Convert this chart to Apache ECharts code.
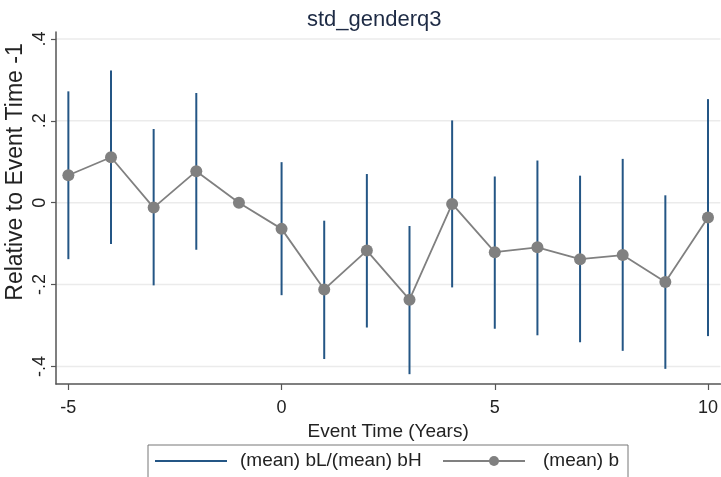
<!DOCTYPE html>
<html>
<head>
<meta charset="utf-8">
<script src="https://cdn.jsdelivr.net/npm/echarts@6/dist/echarts.min.js"></script>
<style>html,body{margin:0;padding:0;background:#fff}#c{width:721px;height:477px}</style>
</head>
<body>
<div id="c"></div>
<script>
const years = [-5,-4,-3,-2,-1,0,1,2,3,4,5,6,7,8,9,10];
const b  = [0.067,0.111,-0.012,0.077,0,-0.064,-0.212,-0.117,-0.237,-0.003,-0.121,-0.109,-0.138,-0.128,-0.194,-0.036];
const bL = [-0.138,-0.101,-0.202,-0.115,0,-0.226,-0.382,-0.305,-0.419,-0.207,-0.308,-0.324,-0.341,-0.362,-0.406,-0.326];
const bH = [0.272,0.323,0.180,0.268,0,0.099,-0.044,0.070,-0.057,0.201,0.064,0.103,0.066,0.107,0.018,0.253];
const xTicks = [-5,0,5,10];
const yTicks = [-0.4,-0.2,0,0.2,0.4];
const yTickLabels = ['-.4','-.2','0','.2','.4'];
const titleText = 'std_genderq3';
const xTitle = 'Event Time (Years)';
const yTitle = 'Relative to Event Time -1';
const ciName = '(mean) bL/(mean) bH';
const bName = '(mean) b';

const FONT = '"Liberation Sans", Arial, sans-serif';
const ciColor = '#245685';
const bColor = '#808080';
const axisColor = '#555555';
const gridColor = '#ebebeb';
const X_MIN = -5.29, X_MAX = 10.29, Y_MIN = -0.443, Y_MAX = 0.417;

const chart = echarts.init(document.getElementById('c'), null, {renderer: 'canvas'});
const ciData = years.map((x, i) => [x, bL[i], bH[i]]);
const lineData = years.map((x, i) => [x, b[i]]);

const option = {
  animation: false,
  backgroundColor: '#ffffff',
  title: {
    text: titleText, left: 302, top: 4,
    textStyle: {fontFamily: FONT, fontSize: 22, fontWeight: 'normal', color: '#1e2b45'}
  },
  grid: {left: 56, top: 32, right: 0, bottom: 93, containLabel: false},
  xAxis: {
    type: 'value', min: X_MIN, max: X_MAX,
    name: xTitle, nameLocation: 'middle', nameGap: 31,
    nameTextStyle: {fontFamily: FONT, fontSize: 19, color: '#222'},
    axisLine: {show: true, onZero: false, lineStyle: {color: axisColor, width: 1.5}},
    axisTick: {show: true, length: 6, customValues: xTicks, lineStyle: {color: axisColor, width: 1.2}},
    axisLabel: {customValues: xTicks, margin: 15, fontFamily: FONT, fontSize: 18, color: '#222'},
    splitLine: {show: false}
  },
  yAxis: {
    type: 'value', min: Y_MIN, max: Y_MAX,
    axisLine: {show: true, onZero: false, lineStyle: {color: axisColor, width: 1.5}},
    axisTick: {show: true, length: 5, customValues: yTicks, lineStyle: {color: axisColor, width: 1.2}},
    axisLabel: {
      customValues: yTicks, rotate: 90, margin: 7, fontFamily: FONT, fontSize: 18, color: '#222',
      formatter: v => { const i = yTicks.findIndex(t => Math.abs(t - v) < 1e-9); return i >= 0 ? yTickLabels[i] : ''; }
    },
    splitLine: {show: false}
  },
  graphic: [
    {type: 'text', x: 16, y: 172, rotation: Math.PI / 2,
     style: {text: yTitle, fontFamily: FONT, fontSize: 23, fill: '#222', align: 'center', verticalAlign: 'middle'}},
    {type: 'rect', shape: {x: 148, y: 445, width: 480, height: 34},
     style: {fill: '#fff', stroke: '#777', lineWidth: 1}},
    {type: 'line', shape: {x1: 155, y1: 461, x2: 227, y2: 461}, style: {stroke: ciColor, lineWidth: 2}},
    {type: 'text', x: 240, y: 461, style: {text: ciName, fontFamily: FONT, fontSize: 19, fill: '#222', verticalAlign: 'middle'}},
    {type: 'line', shape: {x1: 443, y1: 461, x2: 525, y2: 461}, style: {stroke: bColor, lineWidth: 2}},
    {type: 'circle', shape: {cx: 494, cy: 461, r: 5}, style: {fill: bColor}},
    {type: 'text', x: 543, y: 461, style: {text: bName, fontFamily: FONT, fontSize: 19, fill: '#222', verticalAlign: 'middle'}}
  ],
  series: [
    {
      type: 'custom', name: 'grid', silent: true, z: 0,
      data: yTicks.map(v => [v]),
      renderItem: (params, api) => {
        const p1 = api.coord([X_MIN, api.value(0)]);
        const p2 = api.coord([X_MAX, api.value(0)]);
        return {type: 'line', shape: {x1: p1[0], y1: p1[1], x2: p2[0], y2: p2[1]},
                style: {stroke: gridColor, lineWidth: 1.5}};
      },
      encode: {y: 0}
    },
    {
      type: 'custom', name: ciName, z: 2,
      data: ciData,
      encode: {x: 0, y: [1, 2]},
      renderItem: (params, api) => {
        const lo = api.coord([api.value(0), api.value(1)]);
        const hi = api.coord([api.value(0), api.value(2)]);
        return {type: 'line', shape: {x1: lo[0], y1: lo[1], x2: hi[0], y2: hi[1]},
                style: {stroke: ciColor, lineWidth: 2}};
      }
    },
    {
      type: 'line', name: bName, z: 3,
      data: lineData,
      symbol: 'circle', symbolSize: 12,
      lineStyle: {color: bColor, width: 1.8},
      itemStyle: {color: bColor}
    }
  ]
};
chart.setOption(option);
</script>
</body>
</html>
